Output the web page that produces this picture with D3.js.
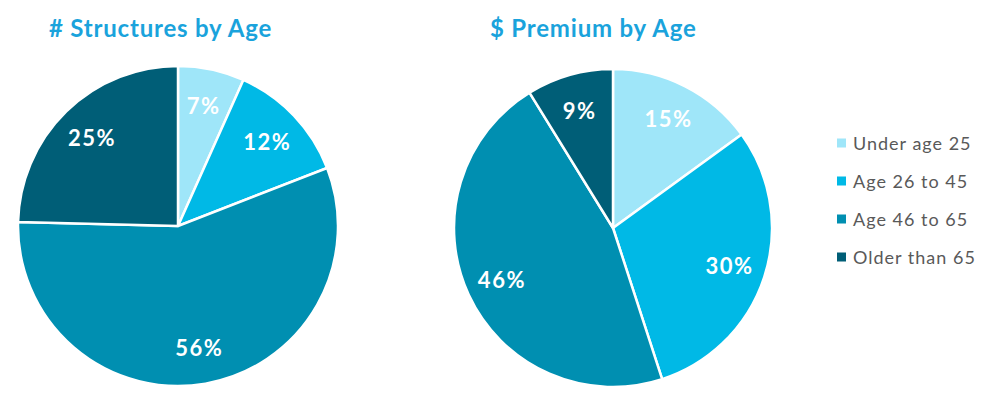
<!DOCTYPE html>
<html>
<head>
<meta charset="utf-8">
<script src="https://cdn.jsdelivr.net/npm/d3@7/dist/d3.min.js"></script>
<style>
  html, body { margin: 0; padding: 0; background: #fff; }
  svg { display: block; font-family: Lato, "Open Sans", sans-serif; }
</style>
</head>
<body>
<svg id="chart" width="995" height="400"></svg>
<script>
const categories = ["Under age 25", "Age 26 to 45", "Age 46 to 65", "Older than 65"];
const structuresValues = [6.7, 12.4, 56.3, 24.6];
const structuresLabels = ["7%", "12%", "56%", "25%"];
const premiumValues = [15.0, 30.0, 46.2, 8.8];
const premiumLabels = ["15%", "30%", "46%", "9%"];
const titles = ["# Structures by Age", "$ Premium by Age"];
const colors = ["#9fe6f9", "#00b9e6", "#008fb1", "#005e77"];

const svg = d3.select("#chart");
const color = d3.scaleOrdinal().domain(categories).range(colors);

function drawPie(cx, cy, r, values, labels, title, titleX) {
  const data = categories.map((c, i) => ({ cat: c, value: values[i], label: labels[i] }));
  const pie = d3.pie().sort(null).value(d => d.value);
  const arcs = pie(data);
  const arc = d3.arc().innerRadius(0).outerRadius(r);
  const labelArc = d3.arc().innerRadius(r * 0.77).outerRadius(r * 0.77);
  const g = svg.append("g").attr("transform", `translate(${cx},${cy})`);
  g.selectAll("path").data(arcs).enter().append("path")
    .attr("d", arc)
    .attr("fill", d => color(d.data.cat))
    .attr("stroke", "#fff")
    .attr("stroke-width", 2.5)
    .attr("stroke-linejoin", "round");
  g.selectAll("text").data(arcs).enter().append("text")
    .attr("transform", d => `translate(${labelArc.centroid(d)})`)
    .attr("text-anchor", "middle")
    .attr("dominant-baseline", "central")
    .attr("fill", "#fff")
    .attr("font-weight", 700)
    .attr("font-size", 22)
    .attr("letter-spacing", 1.5)
    .text(d => d.data.label);
  svg.append("text")
    .attr("x", titleX).attr("y", 37)
    .attr("fill", "#1aa3dc")
    .attr("font-weight", 700)
    .attr("font-size", 24)
    .attr("letter-spacing", 0.8)
    .text(title);
}

drawPie(178, 226, 160, structuresValues, structuresLabels, titles[0], 49);
drawPie(613, 228, 159, premiumValues, premiumLabels, titles[1], 490);

const legend = svg.append("g").attr("transform", "translate(837,143)");
const rows = legend.selectAll("g").data(categories).enter().append("g")
  .attr("transform", (d, i) => `translate(0,${i * 38})`);
rows.append("rect").attr("x", 0).attr("y", -4.5).attr("width", 9).attr("height", 9)
  .attr("fill", d => color(d));
rows.append("text").attr("x", 16).attr("y", 0)
  .attr("dominant-baseline", "central")
  .attr("fill", "#595959")
  .attr("font-size", 18)
  .attr("letter-spacing", 1)
  .text(d => d);
</script>
</body>
</html>
